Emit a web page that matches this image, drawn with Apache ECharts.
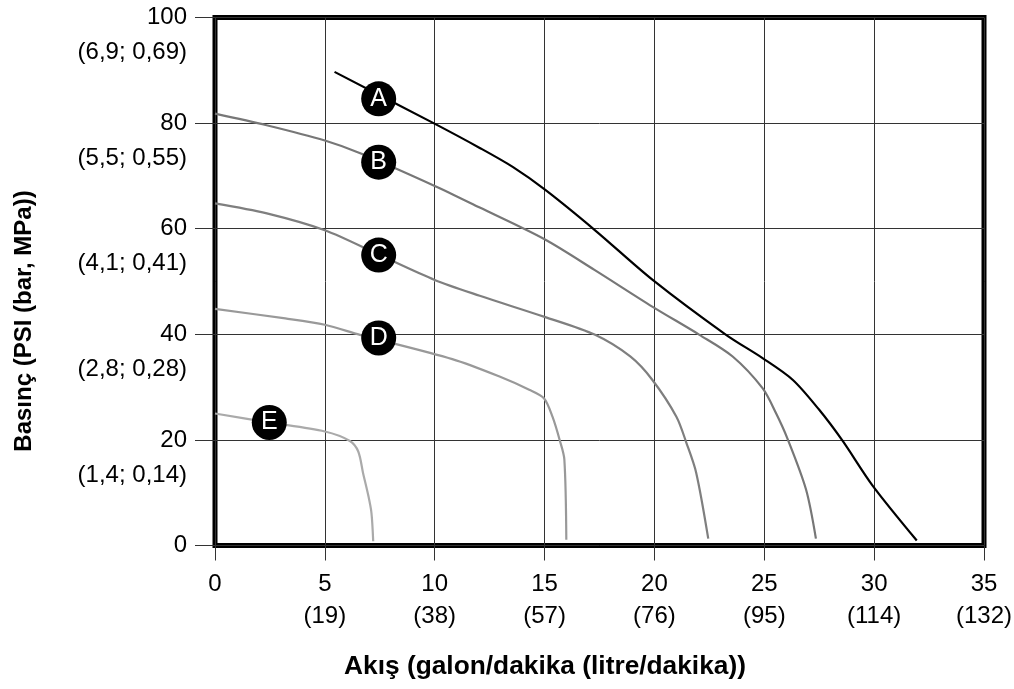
<!DOCTYPE html>
<html><head><meta charset="utf-8">
<script src="https://cdn.jsdelivr.net/npm/echarts@6/dist/echarts.min.js"></script>
<style>html,body{margin:0;padding:0;background:#fff}#c{width:1014px;height:689px}</style>
</head><body><div id="c"></div>
<script>
// Tick labels
const xTicks = [0, 5, 10, 15, 20, 25, 30, 35];
const xSecondary = ['', '(19)', '(38)', '(57)', '(76)', '(95)', '(114)', '(132)'];
const yTicks = [0, 20, 40, 60, 80, 100];
const ySecondary = ['', '(1,4; 0,14)', '(2,8; 0,28)', '(4,1; 0,41)', '(5,5; 0,55)', '(6,9; 0,69)'];

// Curves: [flow gpm, pressure psi]
const curveA = [[5.44,89.7],[9.99,79.9],[12.05,75.3],[13.55,71.7],[15.05,67.3],[17.3,59.7],[19.92,50.3],[23.26,39.9],[24.92,35.5],[26.29,31.4],[27.5,25.7],[28.56,19.85],[29.92,11.4],[31.94,0.95]];
const curveB = [[0,81.8],[2.35,79.6],[5,76.7],[6.67,74.2],[10,68.1],[12.05,64],[15,58],[17.27,52.2],[19.92,45.2],[22.05,39.9],[23.56,35.8],[24.92,29.8],[25.53,25.1],[26.05,20.3],[26.9,10.6],[27.35,1.3]];
const curveC = [[0,64.8],[2.36,62.9],[5,59.7],[7.5,55],[10,50.3],[12.05,47.3],[15,43.3],[17.3,39.9],[18.9,35.8],[19.9,31.4],[21,24.4],[21.45,19.5],[21.9,13.8],[22.45,1.3]];
const curveD = [[0,44.8],[3.2,43.0],[5,41.8],[6.6,39.9],[10.8,35.3],[12.95,32],[14.3,29.5],[14.97,27.9],[15.36,24.4],[15.7,19.8],[15.9,16.3],[15.99,1.1]];
const curveE = [[0,25],[2.47,23.3],[5,21.6],[6.14,19.8],[6.52,17.8],[6.74,13.7],[6.97,9.6],[7.12,6.2],[7.2,0.8]];

const curveNames = ['A', 'B', 'C', 'D', 'E'];
const curveColors = ['#000000', '#777777', '#7f7f7f', '#999999', '#aaaaaa'];
const labelX = [7.45, 7.45, 7.45, 7.45, 2.47];
const labelY = [84.6, 72.6, 55, 39.3, 23.3];

const FONT = 'Liberation Sans';
const curves = [curveA, curveB, curveC, curveD, curveE];

const chart = echarts.init(document.getElementById('c'), null, {renderer: 'canvas'});
const series = curves.map((d, i) => ({
  name: curveNames[i],
  type: 'line',
  data: d,
  showSymbol: false,
  smooth: 0.3,
  lineStyle: {color: curveColors[i], width: 2.2},
  z: 3
}));
series.push({
  type: 'scatter',
  data: labelX.map((x, i) => [x, labelY[i], curveNames[i]]),
  symbol: 'circle',
  symbolSize: 35,
  itemStyle: {color: '#000', opacity: 1},
  label: {show: true, position: 'inside', formatter: p => p.data[2], color: '#fff', fontSize: 25, fontFamily: FONT},
  z: 10
});

chart.setOption({
  animation: false,
  backgroundColor: '#fff',
  grid: {left: 215, right: 30, top: 17.5, bottom: 143.5, show: true, borderColor: '#000', borderWidth: 5, backgroundColor: 'transparent', outerBoundsMode: 'none', containLabel: false},
  xAxis: {
    type: 'value', min: 0, max: 35, interval: 5,
    axisLine: {show: false},
    axisTick: {show: true, length: 15, lineStyle: {color: '#333', width: 1}},
    splitLine: {show: true, lineStyle: {color: '#333', width: 1}},
    axisLabel: {
      margin: 23, fontSize: 24, lineHeight: 32, color: '#000', fontFamily: FONT,
      formatter: v => { const i = xTicks.indexOf(v); return v + '\n' + (i >= 0 && xSecondary[i] ? xSecondary[i] : ' '); }
    }
  },
  yAxis: {
    type: 'value', min: 0, max: 100, interval: 20,
    axisLine: {show: false},
    axisTick: {show: true, length: 20, lineStyle: {color: '#333', width: 1}},
    splitLine: {show: true, lineStyle: {color: '#333', width: 1}},
    axisLabel: {
      margin: 28, fontSize: 24, lineHeight: 35, color: '#000', fontFamily: FONT,
      formatter: v => { const i = yTicks.indexOf(v); return ' \n' + v + '\n' + (i >= 0 && ySecondary[i] ? ySecondary[i] : ' '); }
    }
  },
  graphic: [
    {type: 'text', x: 545, y: 667, style: {text: 'Akış (galon/dakika (litre/dakika))', font: 'bold 26.3px "Liberation Sans"', fill: '#000', align: 'center', verticalAlign: 'middle'}},
    {type: 'text', x: 24, y: 321, rotation: Math.PI / 2, style: {text: 'Basınç (PSI (bar, MPa))', font: 'bold 24px "Liberation Sans"', fill: '#000', align: 'center', verticalAlign: 'middle'}}
  ],
  series: series
});
</script>
</body></html>
